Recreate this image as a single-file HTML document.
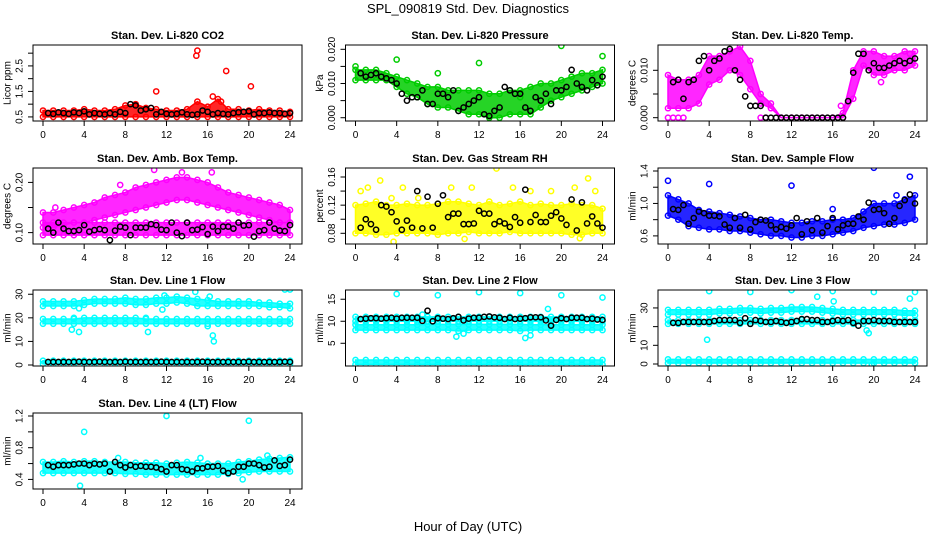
<!DOCTYPE html>
<html><head><meta charset="utf-8"><style>
html,body{margin:0;padding:0;background:#fff;}
svg{display:block;font-family:"Liberation Sans",sans-serif;}
</style></head><body>
<svg id="chart" width="936" height="540" viewBox="0 0 936 540" xmlns="http://www.w3.org/2000/svg">
<rect x="0" y="0" width="936" height="540" fill="#fff"/>
<text x="468" y="13" text-anchor="middle" font-size="13">SPL_090819  Std. Dev. Diagnostics</text>
<text x="468" y="531" text-anchor="middle" font-size="13">Hour of Day (UTC)</text>
</svg>
<script>
// ---- data (band lo/hi at hourly points 0..24, black series at 0.5..24, outliers) ----
const xTicks=[0,4,8,12,16,20,24];
const co2Lo=[0.5,0.5,0.5,0.5,0.5,0.5,0.5,0.5,0.5,0.5,0.5,0.5,0.5,0.5,0.5,0.5,0.5,0.5,0.5,0.5,0.5,0.5,0.5,0.5,0.5];
const co2Hi=[0.75,0.75,0.75,0.75,0.8,0.75,0.75,0.8,0.95,1.0,0.85,0.8,0.75,0.75,0.8,1.1,0.9,1.2,0.8,0.8,0.75,0.8,0.75,0.75,0.7];
const co2OutH=[11,14.9,15,17.8,20.2,16.5,17.3];
const co2OutV=[1.5,2.9,3.1,2.3,1.7,1.3,1.1];
const co2Black=[0.65,0.62,0.68,0.65,0.62,0.68,0.65,0.72,0.6,0.65,0.62,0.6,0.65,0.6,0.7,0.65,1.0,0.95,0.75,0.8,0.85,0.6,0.7,0.62,0.6,0.62,0.68,0.6,0.58,0.6,0.75,0.7,0.6,0.65,0.62,0.6,0.65,0.68,0.7,0.72,0.6,0.65,0.65,0.68,0.65,0.65,0.62,0.65];

const presLo=[0.011,0.011,0.011,0.011,0.009,0.007,0.006,0.004,0.003,0.003,0.002,0.001,0.001,0.000,0.000,0.001,0.001,0.001,0.003,0.005,0.006,0.007,0.008,0.009,0.010];
const presHi=[0.014,0.014,0.014,0.013,0.012,0.011,0.010,0.009,0.009,0.008,0.008,0.008,0.008,0.007,0.007,0.008,0.008,0.009,0.010,0.010,0.011,0.012,0.013,0.013,0.014];
const presOutH=[0,4,8,12,20,24,16];
const presOutV=[0.015,0.017,0.013,0.016,0.021,0.018,0.006];
const presBlack=[0.013,0.012,0.0125,0.013,0.012,0.0115,0.011,0.010,0.007,0.005,0.006,0.006,0.008,0.004,0.004,0.007,0.007,0.006,0.008,0.002,0.003,0.004,0.005,0.006,0.001,0.0005,0.002,0.003,0.009,0.008,0.007,0.007,0.003,0.002,0.006,0.005,0.007,0.004,0.008,0.008,0.009,0.014,0.010,0.009,0.008,0.011,0.0095,0.012];

const tempLo=[0.002,0.002,0.002,0.003,0.007,0.008,0.010,0.009,0.006,0.003,0.002,0,0,0,0,0,0,0,0.004,0.011,0.009,0.009,0.010,0.010,0.011];
const tempHi=[0.009,0.008,0.008,0.009,0.013,0.013,0.014,0.015,0.012,0.005,0.003,0,0,0,0,0,0,0.001,0.010,0.014,0.014,0.013,0.013,0.014,0.014];
const tempOutH=[0,0.5,1,1.5,9,9.5,16.8,20.7,23.5];
const tempOutV=[0,0,0,0,0,0,0.0025,0.0075,0.0135];
const tempBlack=[0.0075,0.008,0.004,0.0075,0.008,0.012,0.013,0.010,0.012,0.0125,0.014,0.0145,0.010,0.008,0.0045,0.0025,0.0025,0.0025,0,0,0,0,0,0,0,0,0,0,0,0,0,0,0,0,0.0035,0.0095,0.0135,0.0135,0.010,0.0115,0.0105,0.0105,0.011,0.0115,0.012,0.0115,0.012,0.0125];

const ambLowLo=[0.095,0.095,0.095,0.095,0.095,0.095,0.095,0.095,0.095,0.095,0.095,0.095,0.095,0.095,0.095,0.095,0.095,0.095,0.095,0.095,0.095,0.095,0.095,0.095,0.095];
const ambLowHi=[0.12,0.12,0.12,0.12,0.12,0.12,0.12,0.12,0.12,0.12,0.12,0.12,0.12,0.12,0.12,0.12,0.12,0.12,0.12,0.12,0.12,0.12,0.12,0.12,0.12];
const ambUpLo=[0.11,0.11,0.115,0.12,0.12,0.125,0.13,0.135,0.14,0.145,0.15,0.155,0.16,0.165,0.165,0.16,0.155,0.15,0.145,0.14,0.135,0.13,0.125,0.12,0.12];
const ambUpHi=[0.14,0.14,0.145,0.15,0.155,0.16,0.17,0.175,0.18,0.19,0.195,0.2,0.205,0.21,0.21,0.205,0.2,0.19,0.18,0.175,0.17,0.165,0.16,0.155,0.145];
const ambOutH=[1.2,10.8,16.4,13.5,7.5];
const ambOutV=[0.15,0.225,0.22,0.22,0.195];
const ambBlack=[0.108,0.1,0.12,0.108,0.103,0.103,0.105,0.115,0.102,0.105,0.107,0.105,0.085,0.104,0.112,0.11,0.095,0.11,0.11,0.11,0.117,0.115,0.106,0.105,0.12,0.1,0.093,0.12,0.105,0.106,0.111,0.097,0.112,0.103,0.112,0.112,0.108,0.12,0.114,0.115,0.092,0.103,0.105,0.12,0.108,0.104,0.103,0.115];

const rhLo=[0.08,0.08,0.078,0.078,0.08,0.08,0.08,0.08,0.078,0.08,0.08,0.082,0.08,0.08,0.08,0.082,0.08,0.08,0.08,0.08,0.08,0.078,0.078,0.08,0.08];
const rhHi=[0.12,0.122,0.125,0.12,0.12,0.122,0.12,0.12,0.122,0.125,0.125,0.122,0.12,0.125,0.12,0.122,0.125,0.12,0.122,0.12,0.12,0.122,0.12,0.12,0.115];
const rhOutH=[0.5,1.2,2.4,3.5,4.6,6.1,9.3,11.3,13.7,15.3,17,19,21.3,22.6,23.3,3.7,10.6,21.8];
const rhOutV=[0.14,0.145,0.155,0.13,0.145,0.13,0.145,0.145,0.172,0.145,0.14,0.14,0.145,0.158,0.14,0.068,0.072,0.073];
const rhBlack=[0.088,0.1,0.093,0.085,0.12,0.118,0.11,0.097,0.085,0.098,0.088,0.14,0.087,0.132,0.088,0.122,0.134,0.103,0.108,0.108,0.093,0.093,0.094,0.112,0.108,0.108,0.093,0.097,0.094,0.089,0.103,0.095,0.142,0.096,0.106,0.096,0.096,0.105,0.11,0.101,0.092,0.128,0.084,0.124,0.094,0.104,0.094,0.088];

const sfLo=[0.85,0.8,0.72,0.7,0.68,0.68,0.66,0.66,0.64,0.62,0.6,0.6,0.58,0.58,0.6,0.6,0.62,0.64,0.66,0.7,0.72,0.74,0.74,0.76,0.8];
const sfHi=[1.1,1.05,1.0,0.92,0.9,0.88,0.86,0.84,0.82,0.8,0.8,0.78,0.76,0.76,0.78,0.78,0.8,0.8,0.82,0.9,1.0,1.0,1.0,1.05,1.1];
const sfOutH=[0,4,12,20,23.5,16,22.2];
const sfOutV=[1.28,1.24,1.22,1.44,1.33,0.93,1.1];
const sfBlack=[0.93,0.92,0.98,0.75,0.82,0.9,0.88,0.85,0.85,0.84,0.74,0.7,0.82,0.7,0.86,0.68,0.77,0.8,0.79,0.73,0.68,0.71,0.69,0.73,0.82,0.62,0.78,0.67,0.82,0.64,0.72,0.82,0.68,0.73,0.75,0.75,0.84,0.8,1.01,0.92,0.93,0.88,0.75,0.82,0.97,1.04,1.11,1.0];

const l1aLo=[25,25,25,25,25.5,26,26,26,26,25.5,25.5,26,26,26.5,26,25,25,25,25,25,25,25,24.5,24.5,24];
const l1aHi=[27,27,27,27,27.5,28,28,28,28.5,28,28,28.5,28.5,29,28.5,28,27.5,27,27,27,27,26.5,26.5,26,26];
const l1bLo=[17.5,17.5,17.5,17.5,17.5,17.5,17.5,17.5,17.5,17.5,17.5,17.5,17.5,17.5,17.5,17.5,17.5,17.5,17.5,17.5,17.5,17.5,17.5,17.5,17.5];
const l1bHi=[19.5,19.5,19.5,19.5,20,20,20,20,20,20,19.5,19.5,19.5,19.5,19.5,19.5,19.5,19.5,19.5,19.5,19.5,19.5,19.5,19.5,19.5];
const l1cLo=[0.5,0.5,0.5,0.5,0.5,0.5,0.5,0.5,0.5,0.5,0.5,0.5,0.5,0.5,0.5,0.5,0.5,0.5,0.5,0.5,0.5,0.5,0.5,0.5,0.5];
const l1cHi=[1.8,1.8,1.8,1.8,1.8,1.8,1.8,1.8,1.8,1.8,1.8,1.8,1.8,1.8,1.8,1.8,1.8,1.8,1.8,1.8,1.8,1.8,1.8,1.8,1.8];
const l1OutH=[4,8,12,16,20,23.5,24,14.8,11.8,16.2,2.8,3.5,10.2,16.6,16.5,3,3.5,10,16,11.6];
const l1OutV=[33,33,34,33,33,32,32,31,29.5,29,15,14,14,10,12.5,20,24,20,16.5,23.5];
const l1Black=[1.3,1.3,1.3,1.3,1.3,1.3,1.4,1.3,1.3,1.3,1.4,1.3,1.3,1.3,1.3,1.4,1.3,1.3,1.3,1.3,1.3,1.3,1.4,1.3,1.3,1.3,1.3,1.3,1.3,1.3,1.4,1.3,1.3,1.3,1.3,1.3,1.3,1.3,1.3,1.4,1.3,1.3,1.3,1.3,1.3,1.3,1.4,1.3];

const l2aLo=[10,10,10,10,10,10,10,10,10,10,10,10,10,10,10,10,10,10,10,10,10,10,10,10,10];
const l2aHi=[11,11,11,11,11,11,11,11,11,11,11,11,11,11,11,11,11,11,11,11,11,11,11,11,11];
const l2bLo=[8,8,8,8,8,8,8,8,8,8,7.8,8,8,8,8,8,7.8,8,8,8,8,8,8,8,8];
const l2bHi=[9.2,9.2,9.2,9.2,9.2,9.2,9.2,9.3,9.3,9.3,9.3,9.3,9.3,9.3,9.3,9.3,9.3,9.2,9.2,9.2,9.2,9.2,9.2,9.2,9.2];
const l2cLo=[0.2,0.2,0.2,0.2,0.2,0.2,0.2,0.2,0.2,0.2,0.2,0.2,0.2,0.2,0.2,0.2,0.2,0.2,0.2,0.2,0.2,0.2,0.2,0.2,0.2];
const l2cHi=[1.2,1.2,1.2,1.2,1.2,1.2,1.2,1.2,1.2,1.2,1.2,1.2,1.2,1.2,1.2,1.2,1.2,1.2,1.2,1.2,1.2,1.2,1.2,1.2,1.2];
const l2OutH=[4,8,12,16,20,24,18.7,9.8,16.5,17,10.5,6.5];
const l2OutV=[16.2,15.9,16.6,16.4,15.9,15.4,12.8,6.5,6.2,6.8,7.2,11.5];
const l2Black=[10.5,10.6,10.7,10.7,10.6,10.7,10.8,10.6,10.8,10.8,10.8,10.8,10.1,12.4,10,10.7,10.6,10.5,10.7,11,10.2,10.6,10.8,10.8,11,11.1,10.9,10.8,10.5,10.8,10.5,10.6,10.7,10.9,10.9,10.9,10.2,9,10.3,10.7,10.5,10.8,10.8,10.8,10.5,10.6,10.4,10.3];

const l3aLo=[26.5,26.5,26.5,26.5,26.5,27,27,27.5,27.5,27,27.5,27.5,28,28,28,27.5,27,26.5,26.5,26.5,26.5,26.5,26.5,26,26];
const l3aHi=[29,29,29,29,29,29.5,29.5,30,30,29.5,30,30,30.5,30.5,30.5,30,29.5,29,29,29,29,29,29,28.5,28.5];
const l3bLo=[21.5,21.5,21.5,21.5,21.5,21.5,21.5,21.5,21.5,21.5,21.5,21.5,21.5,21.5,21.5,21.5,21.5,21.5,21.5,21.5,21.5,21.5,21.5,21.5,21.5];
const l3bHi=[23.5,23.5,23.5,23.5,23.5,23.5,23.5,23.5,23.5,23.5,23.5,23.5,23.5,23.5,23.5,23.5,23.5,23.5,23.5,23.5,23.5,23.5,23.5,23.5,23.5];
const l3cLo=[0.5,0.5,0.5,0.5,0.5,0.5,0.5,0.5,0.5,0.5,0.5,0.5,0.5,0.5,0.5,0.5,0.5,0.5,0.5,0.5,0.5,0.5,0.5,0.5,0.5];
const l3cHi=[2.5,2.5,2.5,2.5,2.5,2.5,2.5,2.5,2.5,2.5,2.5,2.5,2.5,2.5,2.5,2.5,2.5,2.5,2.5,2.5,2.5,2.5,2.5,2.5,2.5];
const l3OutH=[4,8,12,16,20,24,23.5,14.5,16.1,3.8,19.3,19.5,19.8];
const l3OutV=[39,38.5,39.5,39,38.5,38.5,35,36,33.5,13,18,16.5,-0.5];
const l3Black=[22,22,22.5,22.5,22.5,22.5,22.5,22.5,23,23.5,23.5,23.5,23.5,22,24.5,21.5,23.5,23,22.5,22.5,23,22.5,22,22.5,23,24,24,23.5,23.5,22.5,22.5,23,23.5,23,23.5,22,20.5,23,23,23.5,23,23,23,22.5,22.5,22.5,22.5,22.5];

const ltLo=[0.48,0.48,0.48,0.48,0.48,0.48,0.48,0.48,0.47,0.47,0.46,0.46,0.46,0.46,0.46,0.46,0.46,0.46,0.47,0.48,0.49,0.5,0.5,0.5,0.5];
const ltHi=[0.62,0.62,0.63,0.62,0.63,0.63,0.62,0.62,0.62,0.61,0.61,0.61,0.6,0.61,0.62,0.61,0.6,0.6,0.6,0.62,0.63,0.65,0.66,0.67,0.68];
const ltOutH=[4,12,20,3.6,19.4,21.8,7.3,15.3];
const ltOutV=[1.0,1.2,1.14,0.32,0.4,0.7,0.67,0.67];
const ltBlack=[0.58,0.56,0.58,0.58,0.58,0.59,0.6,0.6,0.58,0.6,0.59,0.6,0.5,0.62,0.58,0.55,0.58,0.56,0.57,0.56,0.56,0.55,0.53,0.5,0.58,0.58,0.53,0.52,0.5,0.54,0.54,0.56,0.56,0.57,0.51,0.48,0.5,0.56,0.56,0.6,0.6,0.58,0.55,0.56,0.64,0.57,0.58,0.65];

// tick arrays
const co2Ticks=[0.5,1,1.5,2,2.5,3]; const co2Labels=["0.5","","1.5","","2.5",""];
const presTicks=[0,0.005,0.01,0.015,0.02]; const presLabels=["0.000","","0.010","","0.020"];
const tempTicks=[0,0.005,0.01]; const tempLabels=["0.000","","0.010"];
const ambTicks=[0.1,0.15,0.2]; const ambLabels=["0.10","","0.20"];
const rhTicks=[0.08,0.1,0.12,0.14,0.16]; const rhLabels=["0.08","","0.12","","0.16"];
const sfTicks=[0.6,0.8,1.0,1.2,1.4]; const sfLabels=["0.6","","1.0","","1.4"];
const l1Ticks=[0,10,20,30]; const l1Labels=["0","10","20","30"];
const l2Ticks=[5,10,15]; const l2Labels=["5","10","15"];
const l3Ticks=[0,10,20,30]; const l3Labels=["0","10","","30"];
const ltTicks=[0.4,0.6,0.8,1.0,1.2]; const ltLabels=["0.4","","0.8","","1.2"];

const NS="http://www.w3.org/2000/svg";
const svg=document.getElementById('chart');
const colX=[33,345.5,658], rowY=[45,168,290,413], BW=269, BH=76;
function mk(tag,attrs,parent){const e=document.createElementNS(NS,tag);for(const k in attrs)e.setAttribute(k,attrs[k]);(parent||svg).appendChild(e);return e;}

const panels=[
 {id:'co2',title:'Stan. Dev. Li-820 CO2',ylab:'Licor ppm',c:0,r:0,ymin:0.34,ymax:3.32,col:'#ff0000',bands:[[co2Lo,co2Hi]],oh:co2OutH,ov:co2OutV,blk:co2Black,ticks:co2Ticks,labels:co2Labels},
 {id:'pressure',title:'Stan. Dev. Li-820 Pressure',ylab:'kPa',c:1,r:0,ymin:-0.00096,ymax:0.02126,col:'#00cd00',bands:[[presLo,presHi]],oh:presOutH,ov:presOutV,blk:presBlack,ticks:presTicks,labels:presLabels},
 {id:'temp',title:'Stan. Dev. Li-820 Temp.',ylab:'degrees C',c:2,r:0,ymin:-0.0007,ymax:0.01534,col:'#ff00ff',bands:[[tempLo,tempHi]],oh:tempOutH,ov:tempOutV,blk:tempBlack,ticks:tempTicks,labels:tempLabels},
 {id:'amb-box',title:'Stan. Dev. Amb. Box Temp.',ylab:'degrees C',c:0,r:1,ymin:0.0773,ymax:0.2287,col:'#ff00ff',bands:[[ambLowLo,ambLowHi],[ambUpLo,ambUpHi]],oh:ambOutH,ov:ambOutV,blk:ambBlack,ticks:ambTicks,labels:ambLabels},
 {id:'rh',title:'Stan. Dev. Gas Stream RH',ylab:'percent',c:1,r:1,ymin:0.0648,ymax:0.1728,col:'#ffff00',bands:[[rhLo,rhHi]],oh:rhOutH,ov:rhOutV,blk:rhBlack,ticks:rhTicks,labels:rhLabels},
 {id:'sample-flow',title:'Stan. Dev. Sample Flow',ylab:'ml/min',c:2,r:1,ymin:0.50,ymax:1.437,col:'#0000ff',bands:[[sfLo,sfHi]],oh:sfOutH,ov:sfOutV,blk:sfBlack,ticks:sfTicks,labels:sfLabels},
 {id:'line1',title:'Stan. Dev. Line 1 Flow',ylab:'ml/min',c:0,r:2,ymin:-0.42,ymax:31.8,col:'#00ffff',bands:[[l1aLo,l1aHi],[l1bLo,l1bHi],[l1cLo,l1cHi]],oh:l1OutH,ov:l1OutV,blk:l1Black,ticks:l1Ticks,labels:l1Labels},
 {id:'line2',title:'Stan. Dev. Line 2 Flow',ylab:'ml/min',c:1,r:2,ymin:-0.16,ymax:17.1,col:'#00ffff',bands:[[l2aLo,l2aHi],[l2bLo,l2bHi],[l2cLo,l2cHi]],oh:l2OutH,ov:l2OutV,blk:l2Black,ticks:l2Ticks,labels:l2Labels},
 {id:'line3',title:'Stan. Dev. Line 3 Flow',ylab:'ml/min',c:2,r:2,ymin:-1.07,ymax:39.6,col:'#00ffff',bands:[[l3aLo,l3aHi],[l3bLo,l3bHi],[l3cLo,l3cHi]],oh:l3OutH,ov:l3OutV,blk:l3Black,ticks:l3Ticks,labels:l3Labels},
 {id:'line4',title:'Stan. Dev. Line 4 (LT) Flow',ylab:'ml/min',c:0,r:3,ymin:0.279,ymax:1.238,col:'#00ffff',bands:[[ltLo,ltHi]],oh:ltOutH,ov:ltOutV,blk:ltBlack,ticks:ltTicks,labels:ltLabels}
];

panels.forEach(p=>{
 const bx=colX[p.c], by=rowY[p.r];
 const xs=h=>bx+10+h/24*247;
 const ys=v=>by+(p.ymax-v)/(p.ymax-p.ymin)*BH;
 const g=mk('g',{});
 
 
 const clipId='clip-'+p.id;
 const cp=mk('clipPath',{id:clipId},g);
 mk('rect',{x:bx,y:by,width:BW,height:BH},cp);
 const marks=mk('g',{'clip-path':'url(#'+clipId+')'},g);
 
 
 p.bands.forEach((b,bi)=>{
  const lo=b[0],hi=b[1];
  let pts=[];
  hi.forEach((v,i)=>pts.push(xs(i)+','+ys(v)));
  for(let i=lo.length-1;i>=0;i--)pts.push(xs(i)+','+ys(lo[i]));
  const poly=mk('polygon',{points:pts.join(' '),fill:p.col,stroke:p.col,'stroke-width':1.5,'fill-opacity':0.85},marks);
  
  
  [lo,hi].forEach(arr=>arr.forEach((v,i)=>{
   const c=mk('circle',{cx:xs(i),cy:ys(v),r:2.6,fill:'none',stroke:p.col,'stroke-width':1.5},marks);
   
   
  }));
 });
 p.oh.forEach((h,i)=>{
  const c=mk('circle',{cx:xs(h),cy:ys(p.ov[i]),r:2.6,fill:'none',stroke:p.col,'stroke-width':1.5},marks);
  
  
 });
 p.blk.forEach((v,i)=>{
  const c=mk('circle',{cx:xs((i+1)*0.5),cy:ys(v),r:2.6,fill:'none',stroke:'#000','stroke-width':1.5},marks);
  
  
 });
 const box=mk('rect',{x:bx,y:by,width:BW,height:BH,fill:'none',stroke:'#000','stroke-width':1},g);
 
 
 const t=mk('text',{x:bx+BW/2,y:by-6,'text-anchor':'middle','font-size':11,'font-weight':'bold'},g);
 t.textContent=p.title;
 
 
 const yl=mk('text',{x:0,y:0,'text-anchor':'middle','dominant-baseline':'central','font-size':10,transform:'translate('+(bx-25)+','+(by+BH/2)+') rotate(-90)'},g);
 yl.textContent=p.ylab;
 
 
 mk('line',{x1:xs(0),x2:xs(24),y1:by+BH,y2:by+BH,stroke:'#000'},g);
 xTicks.forEach(h=>{
  mk('line',{x1:xs(h),x2:xs(h),y1:by+BH,y2:by+BH+5,stroke:'#000'},g);
  const tl=mk('text',{x:xs(h),y:by+BH+17,'text-anchor':'middle','font-size':10},g);
  tl.textContent=h;
  
  
 });
 p.ticks.forEach((v,i)=>{
  mk('line',{x1:bx-5,x2:bx,y1:ys(v),y2:ys(v),stroke:'#000'},g);
  if(p.labels[i]){
   const tl=mk('text',{x:0,y:0,'text-anchor':'middle','dominant-baseline':'central','font-size':10,transform:'translate('+(bx-13)+','+ys(v)+') rotate(-90)'},g);
   tl.textContent=p.labels[i];
   
   
  }
 });
});
</script>
</body></html>
